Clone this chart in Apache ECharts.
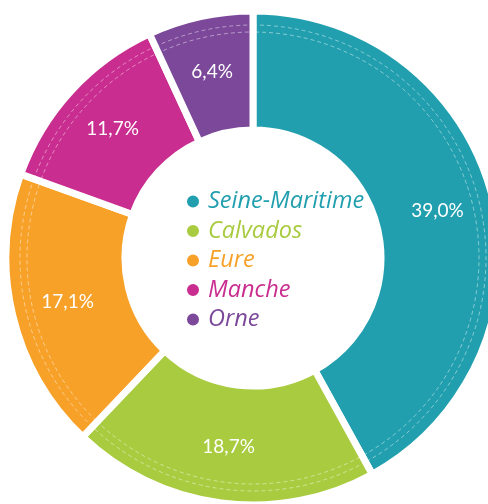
<!DOCTYPE html>
<html>
<head>
<meta charset="utf-8">
<script src="https://cdn.jsdelivr.net/npm/echarts@6/dist/echarts.min.js"></script>
<style>
    html, body { margin: 0; padding: 0; background: #fff; }
    #chart-box { width: 488px; height: 504px; }
</style>
</head>
<body>
<div id="chart-box"></div>
<script>
// départements et parts (%)
let names = ["Seine-Maritime", "Calvados", "Eure", "Manche", "Orne"]
let values = [39.0, 18.7, 17.1, 11.7, 6.4]
let colors = ["#219fae", "#a9cb3f", "#f7a129", "#c92d8f", "#7c489a"]

let chartBox = document.getElementById("chart-box")
let chart = echarts.init(chartBox)

let pieData = names.map(function (n, i) {
    return { name: n, value: values[i], itemStyle: { color: colors[i] } }
})
// copie pour les pointillés décoratifs
let dashData = names.map(function (n, i) {
    return { name: n, value: values[i] }
})

let option = {
    legend: {
        orient: "vertical",
        left: 180,
        top: 185,
        icon: "circle",
        itemWidth: 14,
        itemHeight: 14,
        itemGap: 6.5,
        selectedMode: false,
        textStyle: {
            fontFamily: "Open Sans",
            fontStyle: "italic",
            fontSize: 23.5,
            lineHeight: 23,
            padding: [0, 0, 0, 3]
        },
        data: names.map(function (n, i) {
            return { name: n, textStyle: { color: colors[i] } }
        })
    },
    series: [
        {
            type: "pie",
            center: [253, 258],
            radius: [128, 247],
            startAngle: 90,
            clockwise: true,
            silent: true,
            itemStyle: {
                borderColor: "#fff",
                borderWidth: 7
            },
            label: {
                position: "inside",
                color: "#fff",
                fontFamily: "Lato",
                fontSize: 19,
                formatter: function (p) {
                    return p.value.toFixed(1).replace(".", ",") + "%"
                }
            },
            labelLine: { show: false },
            data: pieData
        },
        {
            type: "pie",
            center: [253, 258],
            radius: [226, 233],
            startAngle: 90,
            silent: true,
            itemStyle: {
                color: "rgba(0,0,0,0)",
                borderColor: "rgba(255,255,255,0.45)",
                borderWidth: 1,
                borderType: [4, 3]
            },
            label: { show: false },
            labelLine: { show: false },
            data: dashData
        }
    ],
    animation: false
}
chart.setOption(option)
</script>
</body>
</html>
